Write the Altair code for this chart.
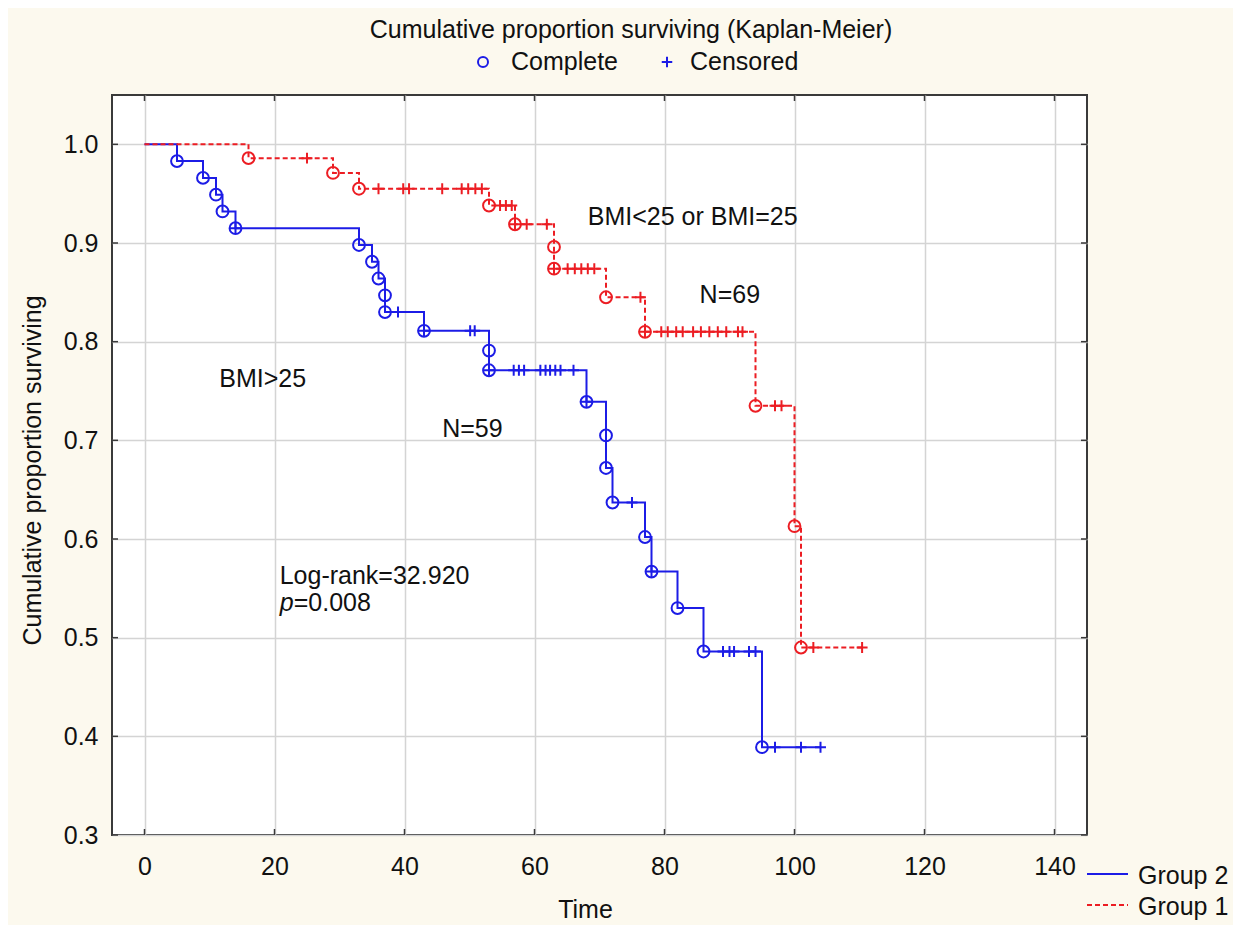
import altair as alt
import pandas as pd

BLUE = "#1c1ce6"
RED = "#ec1d23"
FRAME = "#3a3a3a"
FONT = "Liberation Sans"
FS = 25

title_text = "Cumulative proportion surviving (Kaplan-Meier)"
x_ticks = [0, 20, 40, 60, 80, 100, 120, 140]
y_ticks = [0.3, 0.4, 0.5, 0.6, 0.7, 0.8, 0.9, 1.0]
groups = ["Group 2", "Group 1"]

# Group 2 : BMI>25, N=59
g2_event_time = [5, 9, 11, 12, 14, 33, 35, 36, 37, 37, 43, 53, 53, 68, 71, 71, 72, 77, 78, 82, 86, 95]
g2_event_surv = [0.983, 0.966, 0.949, 0.932, 0.915, 0.898, 0.881, 0.864, 0.847, 0.830, 0.811,
                 0.791, 0.771, 0.739, 0.705, 0.672, 0.637, 0.602, 0.567, 0.530, 0.486, 0.389]
g2_censor_time = [14, 39, 43, 50.1, 50.8, 53, 56.8, 57.6, 58.4, 60.9, 61.7, 62.4, 63.2, 64.0,
                  66.0, 68, 75, 78, 89, 90, 90.7, 93, 94, 97, 101, 104]
g2_last_time = 104

# Group 1 : BMI<25 or BMI=25, N=69
g1_event_time = [16, 29, 33, 53, 57, 63, 63, 71, 77, 94, 100, 101]
g1_event_surv = [0.986, 0.971, 0.955, 0.938, 0.919, 0.896, 0.874, 0.845, 0.810, 0.735, 0.613, 0.490]
g1_censor_time = [25, 36, 39.8, 40.7, 45.8, 48.8, 49.8, 50.9, 51.9, 54.7, 55.6, 56.5, 57, 58.8,
                  61.9, 63, 65.1, 66.2, 67.2, 68.2, 69.2, 76.3, 77, 79.5, 80.5, 81.8, 82.8, 84.4,
                  85.6, 86.9, 88.2, 89.5, 91.3, 92.0, 97.0, 98.0, 102.9, 110.4]
g1_last_time = 110.4

# annotations (data coordinates)
ann_text = ["BMI<25 or BMI=25", "N=69", "BMI>25", "N=59", "Log-rank=32.920"]
ann_x = [68.2, 85.4, 11.5, 45.8, 20.8]
ann_y = [0.926, 0.847, 0.762, 0.711, 0.563]
p_x, p_y = 20.8, 0.535


def surv_at(t, times, survs):
    s = 1.0
    for ti, si in zip(times, survs):
        if ti <= t:
            s = si
    return s


line_rows, event_rows, cens_rows = [], [], []
for g, et, es, ct, last in [
    ("Group 2", g2_event_time, g2_event_surv, g2_censor_time, g2_last_time),
    ("Group 1", g1_event_time, g1_event_surv, g1_censor_time, g1_last_time),
]:
    pts = [(0, 1.0)] + list(zip(et, es)) + [(last, es[-1])]
    for i, (t, s) in enumerate(pts):
        line_rows.append({"group": g, "time": t, "surv": s, "ord": i})
    for t, s in zip(et, es):
        event_rows.append({"group": g, "time": t, "surv": s})
    for t in ct:
        cens_rows.append({"group": g, "time": t, "surv": surv_at(t, et, es)})

lines = pd.DataFrame(line_rows)
events = pd.DataFrame(event_rows)
cens = pd.DataFrame(cens_rows)
ann = pd.DataFrame({"label": ann_text, "x": ann_x, "y": ann_y})

W, H = 975, 740
xs = alt.Scale(domain=[-5, 145], nice=False, zero=False)
ys = alt.Scale(domain=[0.3, 1.05], nice=False, zero=False)

x_axis = alt.Axis(values=x_ticks, format="d", title="Time", grid=True, ticks=False, tickSize=0,
                  domain=False, labelFont=FONT, labelFontSize=FS, labelColor="#111",
                  labelPadding=19, titleFont=FONT, titleFontSize=FS, titleFontWeight="normal",
                  titleColor="#111", titleX=473, titleY=74, titleAlign="center",
                  titleBaseline="middle", gridColor="#d4d4d4", gridWidth=1.5)
y_axis = alt.Axis(values=y_ticks, format=".1f", title="Cumulative proportion surviving",
                  grid=True, ticks=False, tickSize=0, domain=False, labelFont=FONT,
                  labelFontSize=FS, labelColor="#111", labelPadding=14, titleFont=FONT,
                  titleFontSize=FS, titleFontWeight="normal", titleColor="#111", titleX=-80,
                  titleY=375, titleAngle=270, titleAlign="center", titleBaseline="middle",
                  gridColor="#d4d4d4", gridWidth=1.5)


def X(f):
    return alt.X(f, type="quantitative", scale=xs, axis=x_axis)


def Y(f):
    return alt.Y(f, type="quantitative", scale=ys, axis=y_axis)


color = alt.Color("group:N", scale=alt.Scale(domain=groups, range=[BLUE, RED]), legend=None)
dash = alt.StrokeDash("group:N", scale=alt.Scale(domain=groups, range=[[1, 0], [5, 3]]), legend=None)

step = alt.Chart(lines).mark_line(interpolate="step-after", strokeWidth=2).encode(
    x=X("time"), y=Y("surv"), color=color, strokeDash=dash, order="ord:Q", detail="group:N")

circ = alt.Chart(events).mark_point(shape="circle", filled=False, size=140, strokeWidth=2,
                                    opacity=1).encode(x=X("time"), y=Y("surv"), color=color)

PLUS = "M-1,0H1M0,-1V1"
plus = alt.Chart(cens).mark_point(shape=PLUS, filled=False, size=120, strokeWidth=2,
                                  opacity=1).encode(x=X("time"), y=Y("surv"), color=color)

xt = pd.DataFrame({"t": x_ticks})
yt = pd.DataFrame({"v": y_ticks})
tick_b = alt.Chart(xt).mark_rule(color=FRAME, strokeWidth=1.5).encode(
    x=X("t"), y=alt.value(H), y2=alt.value(H - 6))
tick_t = alt.Chart(xt).mark_rule(color=FRAME, strokeWidth=1.5).encode(
    x=X("t"), y=alt.value(0), y2=alt.value(6))
tick_l = alt.Chart(yt).mark_rule(color=FRAME, strokeWidth=1.5).encode(
    y=Y("v"), x=alt.value(0), x2=alt.value(6))
tick_r = alt.Chart(yt).mark_rule(color=FRAME, strokeWidth=1.5).encode(
    y=Y("v"), x=alt.value(W), x2=alt.value(W - 6))

txt = alt.Chart(ann).mark_text(font=FONT, fontSize=FS, align="left", baseline="middle",
                               color="#111").encode(x=X("x"), y=Y("y"), text="label:N")
pdf = pd.DataFrame({"x": [p_x], "y": [p_y]})
p_it = alt.Chart(pdf).mark_text(font=FONT, fontSize=FS, fontStyle="italic", align="left",
                                baseline="middle", color="#111", text="p").encode(
    x=X("x"), y=Y("y"))
p_val = alt.Chart(pdf).mark_text(font=FONT, fontSize=FS, align="left", baseline="middle",
                                 color="#111", text="=0.008", dx=14).encode(x=X("x"), y=Y("y"))

one = pd.DataFrame({"k": [0]})


def label(text, x, y, align="left"):
    return alt.Chart(one).mark_text(font=FONT, fontSize=FS, align=align, baseline="middle",
                                    color="#111", text=text).encode(
        x=alt.value(x), y=alt.value(y))


title = label(title_text, 519, -65, "center")
leg_c = alt.Chart(one).mark_point(shape="circle", filled=False, size=100, strokeWidth=2,
                                  color=BLUE, opacity=1).encode(x=alt.value(371), y=alt.value(-33))
leg_c_t = label("Complete", 399, -33)
leg_p = alt.Chart(one).mark_point(shape=PLUS, filled=False, size=110, strokeWidth=2,
                                  color=BLUE, opacity=1).encode(x=alt.value(555), y=alt.value(-33))
leg_p_t = label("Censored", 578, -33)

leg_g2 = alt.Chart(one).mark_rule(color=BLUE, strokeWidth=2).encode(
    x=alt.value(975), x2=alt.value(1016), y=alt.value(779))
leg_g1 = alt.Chart(one).mark_rule(color=RED, strokeWidth=2, strokeDash=[5, 3]).encode(
    x=alt.value(975), x2=alt.value(1016), y=alt.value(810))
leg_g2_t = label("Group 2", 1026, 781)
leg_g1_t = label("Group 1", 1026, 812)

chart = alt.layer(
    step, circ, plus, tick_b, tick_t, tick_l, tick_r, txt, p_it, p_val,
    title, leg_c, leg_c_t, leg_p, leg_p_t, leg_g2, leg_g1, leg_g2_t, leg_g1_t,
).properties(
    width=W, height=H,
    autosize=alt.AutoSizeParams(type="none"),
    padding={"left": 104, "top": 87, "right": 146, "bottom": 90},
    background="#fcf9ee",
).configure_view(stroke=FRAME, strokeWidth=2, fill="white")

chart.save("out.html", embed_options={"renderer": "svg", "actions": False})
